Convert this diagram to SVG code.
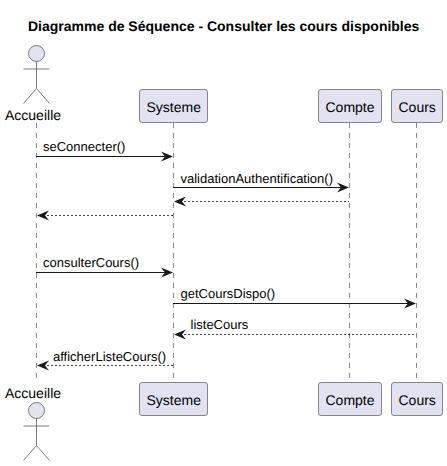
<svg xmlns="http://www.w3.org/2000/svg" width="447" height="466" viewBox="0 0 447 466">
<defs>
<path id="ah" d="M0,0 L-12,-5 L-8,0 L-12,5 Z" fill="#181818"/>
<g id="actor" fill="none" stroke="#5a5a5a" stroke-width="0.8">
<circle cx="0" cy="8" r="8" fill="#E2E2F0"/>
<path d="M0,16 V43 M-13,23.5 H13 M0,43 L-13,58 M0,43 L13,58"/>
</g>
</defs>
<style>
text{font-family:"Liberation Sans",Arial,sans-serif;fill:#000;text-rendering:geometricPrecision}
.t{font-size:14px;font-weight:700}
.p{font-size:14px}
.m{font-size:13px}
.b{fill:#E2E2F0;stroke:#6a6a6a;stroke-width:0.8}
.life{stroke:#6a6a6a;stroke-width:0.8;stroke-dasharray:5,5;fill:none}
.s{stroke:#181818;stroke-width:1;fill:none}
.d{stroke:#181818;stroke-width:0.8;stroke-dasharray:2,2;fill:none}
</style>
<rect width="447" height="466" fill="#fff"/>
<text class="t" x="28" y="31">Diagramme de Séquence - Consulter les cours disponibles</text>
<g id="lifelines">
<path class="life" d="M36.500,123 V379"/>
<path class="life" d="M173.500,123 V379"/>
<path class="life" d="M349.500,123 V379"/>
<path class="life" d="M416.500,123 V379"/>
</g>
<g id="connectors">
<path class="s" d="M36,156.500 H172"/><use href="#ah" x="173" y="156.500"/>
<path class="s" d="M173,187.500 H348"/><use href="#ah" x="349" y="187.500"/>
<path class="d" d="M184,201.500 H349"/><use href="#ah" transform="translate(174,201.500) rotate(180)"/>
<path class="d" d="M47,215.500 H173"/><use href="#ah" transform="translate(37,215.500) rotate(180)"/>
<path class="s" d="M36,272.500 H172"/><use href="#ah" x="173" y="272.500"/>
<path class="s" d="M173,303.500 H415"/><use href="#ah" x="416" y="303.500"/>
<path class="d" d="M184,334.500 H416"/><use href="#ah" transform="translate(174,334.500) rotate(180)"/>
<path class="d" d="M47,365.500 H173"/><use href="#ah" transform="translate(37,365.500) rotate(180)"/>
<text class="m" x="43" y="151">seConnecter()</text>
<text class="m" x="180.500" y="183">validationAuthentification()</text>
<text class="m" x="43" y="267">consulterCours()</text>
<text class="m" x="180.500" y="298">getCoursDispo()</text>
<text class="m" x="190.500" y="329">listeCours</text>
<text class="m" x="53" y="361">afficherListeCours()</text>
</g>
<g id="accueille-top"><use href="#actor" x="36.500" y="45.500"/><text class="p" x="5" y="120">Accueille</text></g>
<g id="accueille-bottom"><use href="#actor" x="36.500" y="402.500"/><text class="p" x="5" y="398">Accueille</text></g>
<g id="systeme-top"><rect class="b" x="139.500" y="89.500" width="68" height="33" rx="2.500"/><text class="p" x="146.500" y="112">Systeme</text></g>
<g id="compte-top"><rect class="b" x="318.500" y="89.500" width="63" height="33" rx="2.500"/><text class="p" x="325.500" y="112">Compte</text></g>
<g id="cours-top"><rect class="b" x="391.500" y="89.500" width="51" height="33" rx="2.500"/><text class="p" x="398.500" y="112">Cours</text></g>
<g id="systeme-bottom"><rect class="b" x="139.500" y="382.500" width="68" height="33" rx="2.500"/><text class="p" x="146.500" y="405">Systeme</text></g>
<g id="compte-bottom"><rect class="b" x="318.500" y="382.500" width="63" height="33" rx="2.500"/><text class="p" x="325.500" y="405">Compte</text></g>
<g id="cours-bottom"><rect class="b" x="391.500" y="382.500" width="51" height="33" rx="2.500"/><text class="p" x="398.500" y="405">Cours</text></g>
</svg>
